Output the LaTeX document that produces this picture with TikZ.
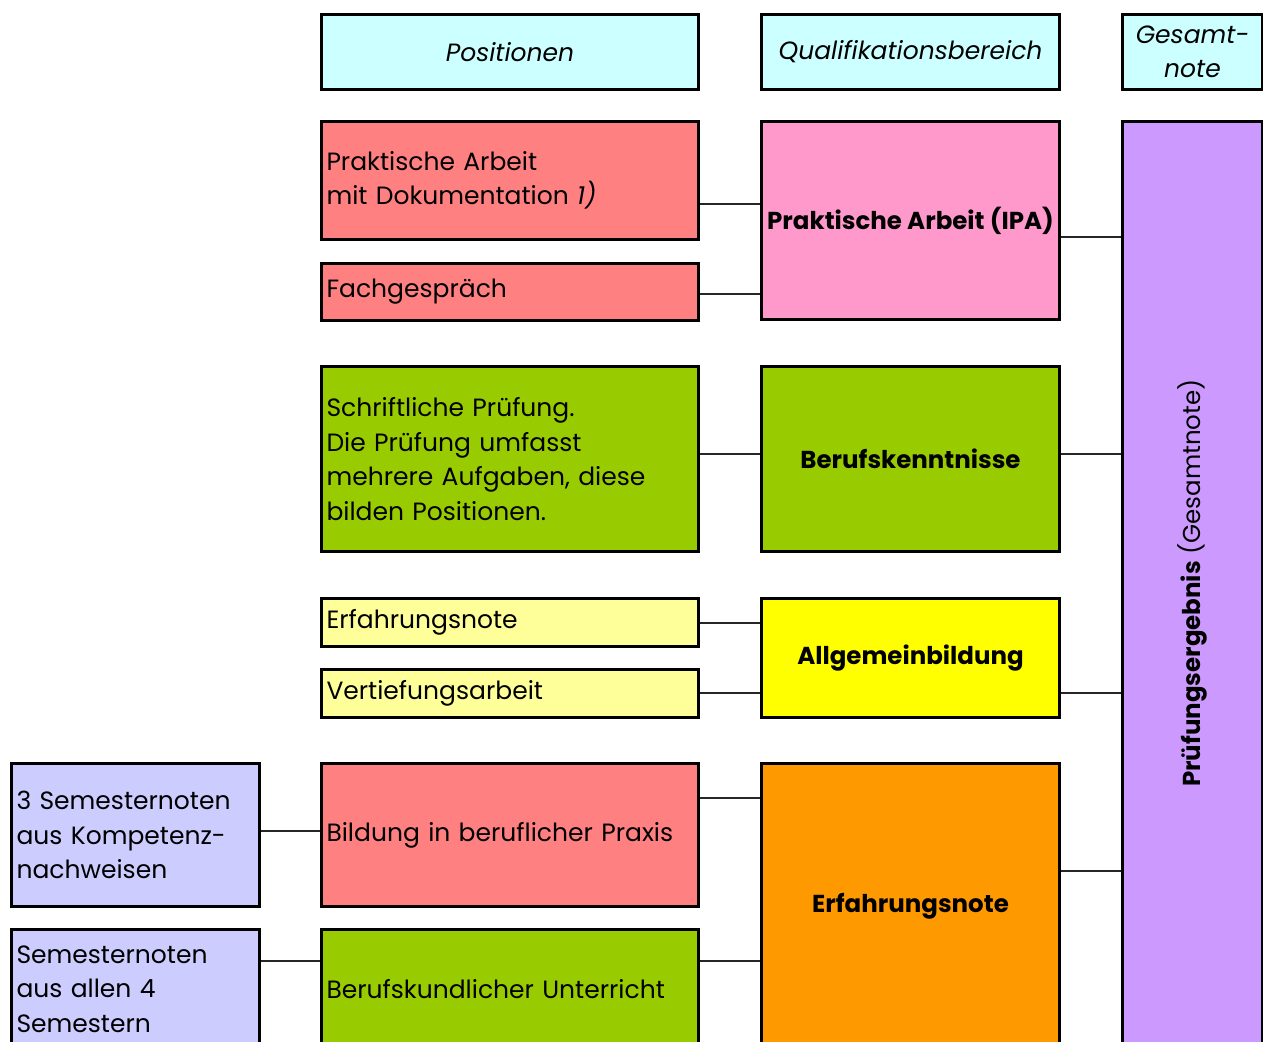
\documentclass[tikz,border=0pt]{standalone}
\usepackage{fontspec}
\setmainfont{Poppins}
\definecolor{cHead}{HTML}{CCFFFF}
\definecolor{cSalmon}{HTML}{FF8080}
\definecolor{cPink}{HTML}{FF99CC}
\definecolor{cGreen}{HTML}{99CC00}
\definecolor{cLYellow}{HTML}{FFFF99}
\definecolor{cYellow}{HTML}{FFFF00}
\definecolor{cOrange}{HTML}{FF9900}
\definecolor{cLav}{HTML}{CCCCFF}
\definecolor{cPurple}{HTML}{CC99FF}
\begin{document}
\begin{tikzpicture}[x=1pt,y=-1pt,
  box/.style={draw=black, line width=3pt, inner sep=0pt, anchor=north west,
    font=\fontsize{25}{34.5}\selectfont},
  lbox/.style={box, inner xsep=5pt, align=left},
  cbox/.style={box, align=center},
  conn/.style={draw=black!85, line width=1.5pt}]
\useasboundingbox (0,0) rectangle (1263,1041);
\clip (0,0) rectangle (1263,1041);
% header
\node[cbox, fill=cHead, minimum width=377pt, minimum height=75pt] (hpos) at (320,13) {\itshape Positionen};
\node[cbox, fill=cHead, minimum width=298pt, minimum height=75pt] (hqual) at (760,13) {\itshape Qualifikationsbereich};
\node[cbox, fill=cHead, minimum width=140pt, minimum height=75pt] (hges) at (1121,13) {\itshape Gesamt-\\\itshape note};
% total
\node[box, fill=cPurple, minimum width=140pt, minimum height=927pt] (pe) at (1121,120) {};
\node[rotate=90, font=\fontsize{24.5}{34.5}\selectfont] (pet) at (pe.center |- 0,583) {\textbf{Prüfungsergebnis} (Gesamtnote)};
% row 1
\node[lbox, fill=cSalmon, text width=367pt, minimum height=118pt] (pad) at (320,120) {Praktische Arbeit\\mit Dokumentation \textit{1)}};
\node[lbox, fill=cSalmon, text width=367pt, minimum height=57pt] (fg) at (320,262) {Fachgespräch};
\node[cbox, fill=cPink, minimum width=298pt, minimum height=198pt, font=\fontsize{24.5}{34.5}\selectfont\bfseries] (ipa) at (760,120) {Praktische Arbeit (IPA)};
% row 2
\node[lbox, fill=cGreen, text width=367pt, minimum height=185pt] (sp) at (320,365) {Schriftliche Prüfung.\\Die Prüfung umfasst\\mehrere Aufgaben, diese\\bilden Positionen.};
\node[cbox, fill=cGreen, minimum width=298pt, minimum height=185pt, font=\fontsize{24.5}{34.5}\selectfont\bfseries] (bk) at (760,365) {Berufskenntnisse};
% row 3
\node[lbox, fill=cLYellow, text width=367pt, minimum height=48pt] (en) at (320,597) {Erfahrungsnote};
\node[lbox, fill=cLYellow, text width=367pt, minimum height=48pt] (va) at (320,668) {Vertiefungsarbeit};
\node[cbox, fill=cYellow, minimum width=298pt, minimum height=119pt, font=\fontsize{24.5}{34.5}\selectfont\bfseries] (ab) at (760,597) {Allgemeinbildung};
% row 4
\node[lbox, fill=cLav, text width=238pt, minimum height=143pt] (sn3) at (10,762) {3 Semesternoten\\aus Kompetenz-\\nachweisen};
\node[lbox, fill=cSalmon, text width=367pt, minimum height=143pt] (bbp) at (320,762) {Bildung in beruflicher Praxis};
\node[lbox, fill=cLav, text width=238pt, minimum height=119pt] (sn4) at (10,928) {Semesternoten\\aus allen 4\\Semestern};
\node[lbox, fill=cGreen, text width=367pt, minimum height=119pt] (bu) at (320,928) {Berufskundlicher Unterricht};
\node[cbox, fill=cOrange, minimum width=298pt, minimum height=285pt, font=\fontsize{24.5}{34.5}\selectfont\bfseries] (eno) at (760,762) {Erfahrungsnote};
% connectors
\draw[conn] (pad.east |- 0,204) -- (ipa.west |- 0,204);
\draw[conn] (fg.east |- 0,294) -- (ipa.west |- 0,294);
\draw[conn] (ipa.east |- 0,237) -- (pe.west |- 0,237);
\draw[conn] (sp.east |- 0,454) -- (bk.west |- 0,454);
\draw[conn] (bk.east |- 0,454) -- (pe.west |- 0,454);
\draw[conn] (en.east |- 0,623) -- (ab.west |- 0,623);
\draw[conn] (va.east |- 0,693) -- (ab.west |- 0,693);
\draw[conn] (ab.east |- 0,693) -- (pe.west |- 0,693);
\draw[conn] (sn3.east |- 0,831) -- (bbp.west |- 0,831);
\draw[conn] (bbp.east |- 0,798) -- (eno.west |- 0,798);
\draw[conn] (sn4.east |- 0,961) -- (bu.west |- 0,961);
\draw[conn] (bu.east |- 0,961) -- (eno.west |- 0,961);
\draw[conn] (eno.east |- 0,871) -- (pe.west |- 0,871);
\end{tikzpicture}
\end{document}
